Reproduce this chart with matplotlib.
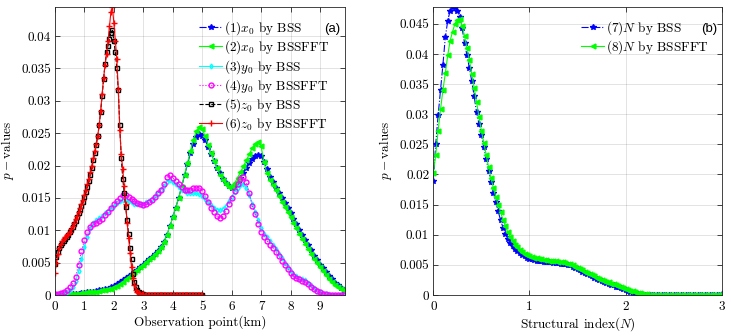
import numpy as np
import matplotlib
matplotlib.use('Agg')
import matplotlib.pyplot as plt
from matplotlib.ticker import FixedLocator, FuncFormatter

plt.rcParams['font.family'] = ['cmr10']
plt.rcParams['mathtext.fontset'] = 'cm'
plt.rcParams['axes.formatter.use_mathtext'] = True
plt.rcParams['axes.unicode_minus'] = False

# ---- panel (a): observation points (km) ----
x_km = np.round(np.arange(0, 9.8001, 0.1), 2)
z_km = np.round(np.arange(0, 5.0001, 0.05), 2)

x0_bss = [0.0000, 0.0000, 0.0001, 0.0001, 0.0001, 0.0001, 0.0002, 0.0002, 0.0002, 0.0003,
          0.0003, 0.0004, 0.0004, 0.0005, 0.0006, 0.0007, 0.0008, 0.0009, 0.0010, 0.0012,
          0.0014, 0.0017, 0.0020, 0.0023, 0.0026, 0.0029, 0.0032, 0.0036, 0.0039, 0.0043,
          0.0047, 0.0051, 0.0055, 0.0059, 0.0063, 0.0068, 0.0074, 0.0082, 0.0093, 0.0106,
          0.0120, 0.0135, 0.0150, 0.0167, 0.0185, 0.0202, 0.0219, 0.0233, 0.0244, 0.0248,
          0.0246, 0.0239, 0.0229, 0.0218, 0.0207, 0.0197, 0.0188, 0.0180, 0.0173, 0.0168,
          0.0165, 0.0167, 0.0173, 0.0181, 0.0189, 0.0197, 0.0204, 0.0210, 0.0215, 0.0217,
          0.0215, 0.0206, 0.0194, 0.0183, 0.0174, 0.0166, 0.0158, 0.0150, 0.0142, 0.0134,
          0.0126, 0.0118, 0.0109, 0.0101, 0.0093, 0.0085, 0.0077, 0.0069, 0.0061, 0.0054,
          0.0047, 0.0041, 0.0035, 0.0029, 0.0024, 0.0019, 0.0015, 0.0011, 0.0008]

x0_bssfft = [0.0000, 0.0000, 0.0001, 0.0001, 0.0001, 0.0001, 0.0002, 0.0002, 0.0002, 0.0003,
             0.0003, 0.0004, 0.0004, 0.0005, 0.0005, 0.0006, 0.0007, 0.0008, 0.0009, 0.0010,
             0.0012, 0.0014, 0.0017, 0.0020, 0.0024, 0.0028, 0.0032, 0.0036, 0.0039, 0.0043,
             0.0047, 0.0051, 0.0055, 0.0059, 0.0063, 0.0068, 0.0074, 0.0082, 0.0093, 0.0106,
             0.0120, 0.0135, 0.0150, 0.0167, 0.0186, 0.0204, 0.0223, 0.0240, 0.0253, 0.0260,
             0.0256, 0.0245, 0.0232, 0.0219, 0.0207, 0.0196, 0.0186, 0.0177, 0.0171, 0.0167,
             0.0168, 0.0173, 0.0181, 0.0190, 0.0199, 0.0208, 0.0218, 0.0227, 0.0234, 0.0237,
             0.0230, 0.0205, 0.0188, 0.0178, 0.0170, 0.0162, 0.0153, 0.0144, 0.0136, 0.0128,
             0.0120, 0.0112, 0.0103, 0.0095, 0.0087, 0.0079, 0.0071, 0.0064, 0.0056, 0.0049,
             0.0043, 0.0037, 0.0031, 0.0025, 0.0020, 0.0016, 0.0012, 0.0009, 0.0007]

y0_bss = [0.0000, 0.0001, 0.0002, 0.0003, 0.0005, 0.0008, 0.0013, 0.0021, 0.0037, 0.0055,
          0.0074, 0.0090, 0.0103, 0.0111, 0.0116, 0.0119, 0.0122, 0.0126, 0.0130, 0.0134,
          0.0138, 0.0142, 0.0145, 0.0147, 0.0147, 0.0145, 0.0143, 0.0141, 0.0140, 0.0140,
          0.0141, 0.0143, 0.0146, 0.0149, 0.0153, 0.0158, 0.0163, 0.0169, 0.0175, 0.0177,
          0.0175, 0.0171, 0.0167, 0.0163, 0.0160, 0.0158, 0.0157, 0.0157, 0.0157, 0.0156,
          0.0153, 0.0148, 0.0143, 0.0139, 0.0135, 0.0132, 0.0131, 0.0133, 0.0138, 0.0145,
          0.0152, 0.0159, 0.0165, 0.0170, 0.0171, 0.0166, 0.0155, 0.0141, 0.0129, 0.0116,
          0.0103, 0.0095, 0.0089, 0.0083, 0.0077, 0.0071, 0.0064, 0.0057, 0.0050, 0.0043,
          0.0037, 0.0032, 0.0029, 0.0027, 0.0025, 0.0023, 0.0019, 0.0015, 0.0011, 0.0008,
          0.0005, 0.0003, 0.0002, 0.0001, 0.0000, 0.0000, 0.0000, 0.0000, 0.0000]

y0_bssfft = [0.0001, 0.0001, 0.0003, 0.0005, 0.0008, 0.0012, 0.0018, 0.0028, 0.0047, 0.0068,
             0.0085, 0.0097, 0.0105, 0.0109, 0.0111, 0.0114, 0.0118, 0.0123, 0.0128, 0.0134,
             0.0140, 0.0145, 0.0150, 0.0155, 0.0155, 0.0152, 0.0149, 0.0146, 0.0142, 0.0140,
             0.0139, 0.0140, 0.0143, 0.0147, 0.0151, 0.0157, 0.0163, 0.0172, 0.0182, 0.0186,
             0.0181, 0.0176, 0.0172, 0.0167, 0.0163, 0.0162, 0.0163, 0.0165, 0.0166, 0.0166,
             0.0161, 0.0153, 0.0144, 0.0135, 0.0128, 0.0122, 0.0119, 0.0122, 0.0130, 0.0140,
             0.0150, 0.0161, 0.0172, 0.0180, 0.0182, 0.0174, 0.0157, 0.0137, 0.0125, 0.0110,
             0.0097, 0.0090, 0.0084, 0.0078, 0.0073, 0.0066, 0.0060, 0.0053, 0.0047, 0.0040,
             0.0034, 0.0029, 0.0026, 0.0024, 0.0022, 0.0020, 0.0017, 0.0013, 0.0009, 0.0006,
             0.0004, 0.0002, 0.0001, 0.0000, 0.0000, 0.0000, 0.0000, 0.0000, 0.0000]

z0_bss = [0.0048, 0.0058, 0.0066, 0.0072, 0.0077, 0.0081, 0.0084, 0.0087, 0.0090, 0.0093,
          0.0097, 0.0101, 0.0105, 0.0110, 0.0115, 0.0120, 0.0126, 0.0132, 0.0138, 0.0144,
          0.0151, 0.0159, 0.0167, 0.0176, 0.0186, 0.0197, 0.0208, 0.0220, 0.0232, 0.0245,
          0.0262, 0.0283, 0.0307, 0.0334, 0.0357, 0.0375, 0.0385, 0.0396, 0.0405, 0.0409,
          0.0392, 0.0375, 0.0350, 0.0316, 0.0262, 0.0212, 0.0180, 0.0158, 0.0136, 0.0116,
          0.0094, 0.0073, 0.0055, 0.0033, 0.0020, 0.0013, 0.0008, 0.0005, 0.0003, 0.0002,
          0.0001, 0.0000, 0.0000, 0.0000, 0.0000, 0.0000, 0.0000, 0.0000, 0.0000, 0.0000,
          0.0000, 0.0000, 0.0000, 0.0000, 0.0000, 0.0000, 0.0000, 0.0000, 0.0000, 0.0000,
          0.0000, 0.0000, 0.0000, 0.0000, 0.0000, 0.0000, 0.0000, 0.0000, 0.0000, 0.0000,
          0.0000, 0.0000, 0.0000, 0.0000, 0.0000, 0.0000, 0.0000, 0.0000, 0.0000, 0.0000,
          0.0000]

z0_bssfft = [0.0034, 0.0050, 0.0063, 0.0073, 0.0079, 0.0083, 0.0086, 0.0089, 0.0092, 0.0095,
             0.0098, 0.0102, 0.0107, 0.0112, 0.0117, 0.0122, 0.0128, 0.0134, 0.0140, 0.0147,
             0.0155, 0.0163, 0.0171, 0.0180, 0.0190, 0.0200, 0.0211, 0.0222, 0.0234, 0.0246,
             0.0262, 0.0285, 0.0310, 0.0335, 0.0355, 0.0372, 0.0392, 0.0415, 0.0438, 0.0445,
             0.0420, 0.0393, 0.0364, 0.0318, 0.0255, 0.0218, 0.0195, 0.0168, 0.0140, 0.0112,
             0.0088, 0.0065, 0.0043, 0.0026, 0.0015, 0.0008, 0.0005, 0.0003, 0.0002, 0.0001,
             0.0001, 0.0000, 0.0000, 0.0000, 0.0000, 0.0000, 0.0000, 0.0000, 0.0000, 0.0000,
             0.0000, 0.0000, 0.0000, 0.0000, 0.0000, 0.0000, 0.0000, 0.0000, 0.0000, 0.0000,
             0.0000, 0.0000, 0.0000, 0.0000, 0.0000, 0.0000, 0.0000, 0.0000, 0.0000, 0.0000,
             0.0000, 0.0000, 0.0000, 0.0000, 0.0000, 0.0000, 0.0000, 0.0000, 0.0000, 0.0000,
             0.0000]

# ---- panel (b): structural index N ----
n_idx = np.round(np.arange(0, 3.0001, 0.025), 3)

n_bss = [0.0189, 0.0250, 0.0298, 0.0340, 0.0382, 0.0428, 0.0455, 0.0472,
         0.0478, 0.0478, 0.0472, 0.0461, 0.0443, 0.0418, 0.0398, 0.0377,
         0.0355, 0.0330, 0.0303, 0.0284, 0.0266, 0.0245, 0.0226, 0.0206,
         0.0187, 0.0170, 0.0154, 0.0139, 0.0124, 0.0112, 0.0102, 0.0093,
         0.0086, 0.0081, 0.0077, 0.0073, 0.0069, 0.0066, 0.0064, 0.0062,
         0.0060, 0.0059, 0.0058, 0.0057, 0.0057, 0.0056, 0.0055, 0.0055,
         0.0054, 0.0054, 0.0053, 0.0053, 0.0053, 0.0052, 0.0052, 0.0051,
         0.0050, 0.0049, 0.0047, 0.0045, 0.0043, 0.0041, 0.0039, 0.0037,
         0.0035, 0.0033, 0.0031, 0.0029, 0.0027, 0.0025, 0.0023, 0.0022,
         0.0020, 0.0019, 0.0017, 0.0016, 0.0014, 0.0013, 0.0011, 0.0010,
         0.0008, 0.0007, 0.0005, 0.0004, 0.0003, 0.0002, 0.0001, 0.0001,
         0.0000, 0.0000, 0.0000, 0.0000, 0.0000, 0.0000, 0.0000, 0.0000,
         0.0000, 0.0000, 0.0000, 0.0000, 0.0000, 0.0000, 0.0000, 0.0000,
         0.0000, 0.0000, 0.0000, 0.0000, 0.0000, 0.0000, 0.0000, 0.0000,
         0.0000, 0.0000, 0.0000, 0.0000, 0.0000, 0.0000, 0.0000, 0.0000,
         0.0001]

n_bssfft = [0.0203, 0.0232, 0.0272, 0.0308, 0.0340, 0.0368, 0.0398, 0.0422,
            0.0437, 0.0450, 0.0457, 0.0458, 0.0447, 0.0430, 0.0410, 0.0390,
            0.0367, 0.0344, 0.0320, 0.0296, 0.0273, 0.0253, 0.0233, 0.0212,
            0.0194, 0.0178, 0.0163, 0.0150, 0.0137, 0.0125, 0.0114, 0.0104,
            0.0096, 0.0089, 0.0083, 0.0079, 0.0075, 0.0071, 0.0068, 0.0066,
            0.0064, 0.0063, 0.0062, 0.0061, 0.0060, 0.0059, 0.0058, 0.0058,
            0.0057, 0.0057, 0.0056, 0.0056, 0.0055, 0.0055, 0.0054, 0.0053,
            0.0052, 0.0051, 0.0049, 0.0047, 0.0045, 0.0043, 0.0041, 0.0039,
            0.0037, 0.0035, 0.0033, 0.0031, 0.0029, 0.0027, 0.0025, 0.0024,
            0.0022, 0.0021, 0.0019, 0.0018, 0.0016, 0.0015, 0.0013, 0.0012,
            0.0010, 0.0009, 0.0007, 0.0006, 0.0005, 0.0004, 0.0003, 0.0002,
            0.0001, 0.0001, 0.0000, 0.0000, 0.0000, 0.0000, 0.0000, 0.0000,
            0.0000, 0.0000, 0.0000, 0.0000, 0.0000, 0.0000, 0.0000, 0.0000,
            0.0000, 0.0000, 0.0000, 0.0000, 0.0000, 0.0000, 0.0000, 0.0000,
            0.0000, 0.0000, 0.0000, 0.0000, 0.0000, 0.0000, 0.0000, 0.0000,
            0.0001]

xticks_a = [0, 1, 2, 3, 4, 5, 6, 7, 8, 9]
yticks_a = [0, 0.005, 0.01, 0.015, 0.02, 0.025, 0.03, 0.035, 0.04]
xticks_b = [0, 1, 2, 3]
yticks_b = [0, 0.005, 0.01, 0.015, 0.02, 0.025, 0.03, 0.035, 0.04, 0.045]

FS = 9.5
DARK = (0.15, 0.15, 0.15)


def style_axes(ax, xt, yt):
    ax.xaxis.set_major_locator(FixedLocator(xt))
    ax.yaxis.set_major_locator(FixedLocator(yt))
    fmt = FuncFormatter(lambda v, pos: '%g' % v)
    ax.xaxis.set_major_formatter(fmt)
    ax.yaxis.set_major_formatter(fmt)
    ax.grid(True, color=DARK, alpha=0.15, linewidth=0.6)
    ax.set_axisbelow(True)
    ax.tick_params(direction='in', top=True, right=True, length=3.5, width=0.6,
                   color=DARK, labelsize=FS)
    ax.tick_params(axis='y', pad=3)
    ax.tick_params(axis='x', pad=4)
    for s in ax.spines.values():
        s.set_color(DARK)
        s.set_linewidth(0.6)


def add_legend(ax, anchor_x):
    ax.legend(loc='upper right', bbox_to_anchor=(anchor_x, 1.0), frameon=False, fontsize=FS,
              handlelength=1.8, handletextpad=0.15, labelspacing=0.1, borderpad=0.3,
              borderaxespad=0.65)


fig = plt.figure(figsize=(7.31, 3.36), dpi=100)
ax1 = fig.add_axes([55 / 731, 1 - 295 / 336, 290 / 731, 288 / 336])
ax2 = fig.add_axes([433.3 / 731, 1 - 295 / 336, 288.4 / 731, 288 / 336])

lw = 0.8
ax1.plot(x_km, x0_bss, '-.', color='blue', marker='*', ms=4, lw=lw, label='(1)$x_0$ by BSS')
ax1.plot(x_km, x0_bssfft, '-', color=(0, 1, 0), marker='<', ms=3.5, lw=lw, label='(2)$x_0$ by BSSFFT')
ax1.plot(x_km, y0_bss, '-', color='cyan', marker='d', ms=2.5, mfc='none', lw=lw, label='(3)$y_0$ by BSS')
ax1.plot(x_km, y0_bssfft, ':', color='magenta', marker='o', ms=3.5, mfc='none', lw=lw, label='(4)$y_0$ by BSSFFT')
ax1.plot(z_km, z0_bss, '--', color='black', marker='s', ms=3.3, mfc='none', lw=lw, label='(5)$z_0$ by BSS')
ax1.plot(z_km, z0_bssfft, '-', color='red', marker='+', ms=4.5, lw=lw, label='(6)$z_0$ by BSSFFT')

ax1.set_xlim(0, 9.85)
ax1.set_ylim(0, 0.0445)
style_axes(ax1, xticks_a, yticks_a)
ax1.set_xlabel('Observation point(km)', fontsize=FS, labelpad=2)
ax1.set_ylabel('$p-$values', fontsize=FS, labelpad=4)
add_legend(ax1, 0.99)
ax1.text(0.985, 0.922, '(a)', transform=ax1.transAxes, ha='right', va='center',
         fontsize=FS, family='Liberation Sans')

ax2.plot(n_idx, n_bss, '-.', color='blue', marker='*', ms=4, lw=lw, label='(7)$N$ by BSS')
ax2.plot(n_idx, n_bssfft, '-', color=(0, 1, 0), marker='<', ms=3.5, lw=lw, label='(8)$N$ by BSSFFT')
ax2.set_xlim(0, 3)
ax2.set_ylim(0, 0.0478)
style_axes(ax2, xticks_b, yticks_b)
ax2.set_xlabel('Structural index($N$)', fontsize=FS, labelpad=2)
ax2.set_ylabel('$p-$values', fontsize=FS, labelpad=4)
add_legend(ax2, 1.0)
ax2.text(0.984, 0.922, '(b)', transform=ax2.transAxes, ha='right', va='center',
         fontsize=FS, family='Liberation Sans')

fig.savefig('out.png', dpi=100)
